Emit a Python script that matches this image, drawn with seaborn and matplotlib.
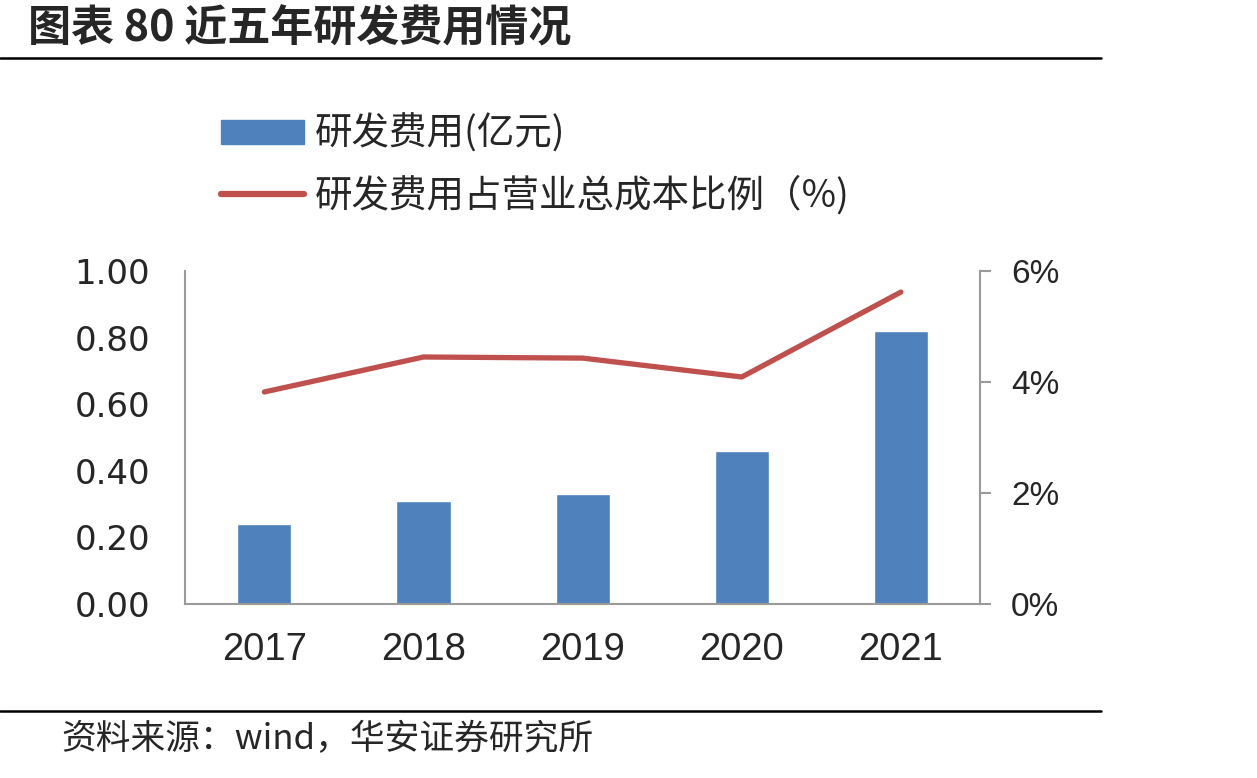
import numpy as np
import pandas as pd
import seaborn as sns
import matplotlib.pyplot as plt
from matplotlib.patches import Patch
from matplotlib.lines import Line2D

# data
years = ["2017", "2018", "2019", "2020", "2021"]
rd_cost = [0.24, 0.31, 0.33, 0.46, 0.82]          # 亿元
rd_ratio = [3.82, 4.45, 4.43, 4.09, 5.62]         # %
left_ticks = [0.0, 0.2, 0.4, 0.6, 0.8, 1.0]
right_ticks = [0, 2, 4, 6]

title = "图表 80 近五年研发费用情况"
bar_label = "研发费用(亿元)"
line_label = "研发费用占营业总成本比例（%)"
source = "资料来源：wind，华安证券研究所"

sns.set_theme(style="white")
plt.rcParams['font.family'] = ['Noto Sans CJK SC', 'DejaVu Sans']

blue = "#4F81BD"
red = "#C0504D"
grey = "#9A9A9A"
narrow = ['Liberation Sans Narrow', 'Liberation Sans', 'DejaVu Sans']

df = pd.DataFrame({"year": years, "cost": rd_cost, "ratio": rd_ratio})

fig = plt.figure(figsize=(12.57, 7.78), dpi=100)
ax = fig.add_axes([0.147, 0.2237, 0.633, 0.428])

sns.barplot(data=df, x="year", y="cost", color=blue, width=0.34,
            saturation=1, ax=ax)
ax.set_ylim(0, 1.0)
ax.set_xlim(-0.5, 4.5)
ax.set_yticks(left_ticks)
ax.set_yticklabels([f"{v:.2f}" for v in left_ticks], fontsize=24.5,
                   family=['DejaVu Sans'])
ax.set_xticks(range(len(years)))
ax.set_xticklabels(years, fontsize=27.5, family=narrow)
ax.tick_params(axis='y', length=0, pad=25)
ax.tick_params(axis='x', length=0, pad=20)
ax.set_xlabel("")
ax.set_ylabel("")
for s in ["top", "right"]:
    ax.spines[s].set_visible(False)
for s in ["left", "bottom"]:
    ax.spines[s].set_color(grey)
    ax.spines[s].set_linewidth(1.5)

ax2 = ax.twinx()
sns.lineplot(x=np.arange(len(years)), y=rd_ratio, color=red, linewidth=3.8,
             ax=ax2, solid_capstyle='round')
ax2.set_ylim(0, 6)
ax2.set_yticks(right_ticks)
ax2.set_yticklabels([f"{v}%" for v in right_ticks], fontsize=24, family=narrow)
ax2.tick_params(axis='y', length=8, width=1.5, color=grey, pad=14, direction='out')
ax2.set_ylabel("")
for s in ["top", "left", "bottom"]:
    ax2.spines[s].set_visible(False)
ax2.spines["right"].set_color(grey)
ax2.spines["right"].set_linewidth(1.5)

handles = [Patch(facecolor=blue, edgecolor=blue),
           Line2D([0], [0], color=red, linewidth=4.5, solid_capstyle='round')]
fig.legend(handles, [bar_label, line_label], loc="upper left",
           bbox_to_anchor=(0.164, 0.872), frameon=False, fontsize=27,
           handlelength=2.2, handleheight=0.6, handletextpad=0.3,
           labelspacing=0.6, borderaxespad=0)

fig.text(0.022, 0.963, title, fontsize=31, fontweight="bold", va="center", ha="left")
fig.add_artist(Line2D([0, 0.876], [0.925, 0.925], color="black", linewidth=1.8,
                      transform=fig.transFigure))
fig.add_artist(Line2D([0, 0.876], [0.086, 0.086], color="black", linewidth=1.8,
                      transform=fig.transFigure))
fig.text(0.049, 0.049, source, fontsize=25, va="center", ha="left")

fig.savefig("out.png", dpi=100)
